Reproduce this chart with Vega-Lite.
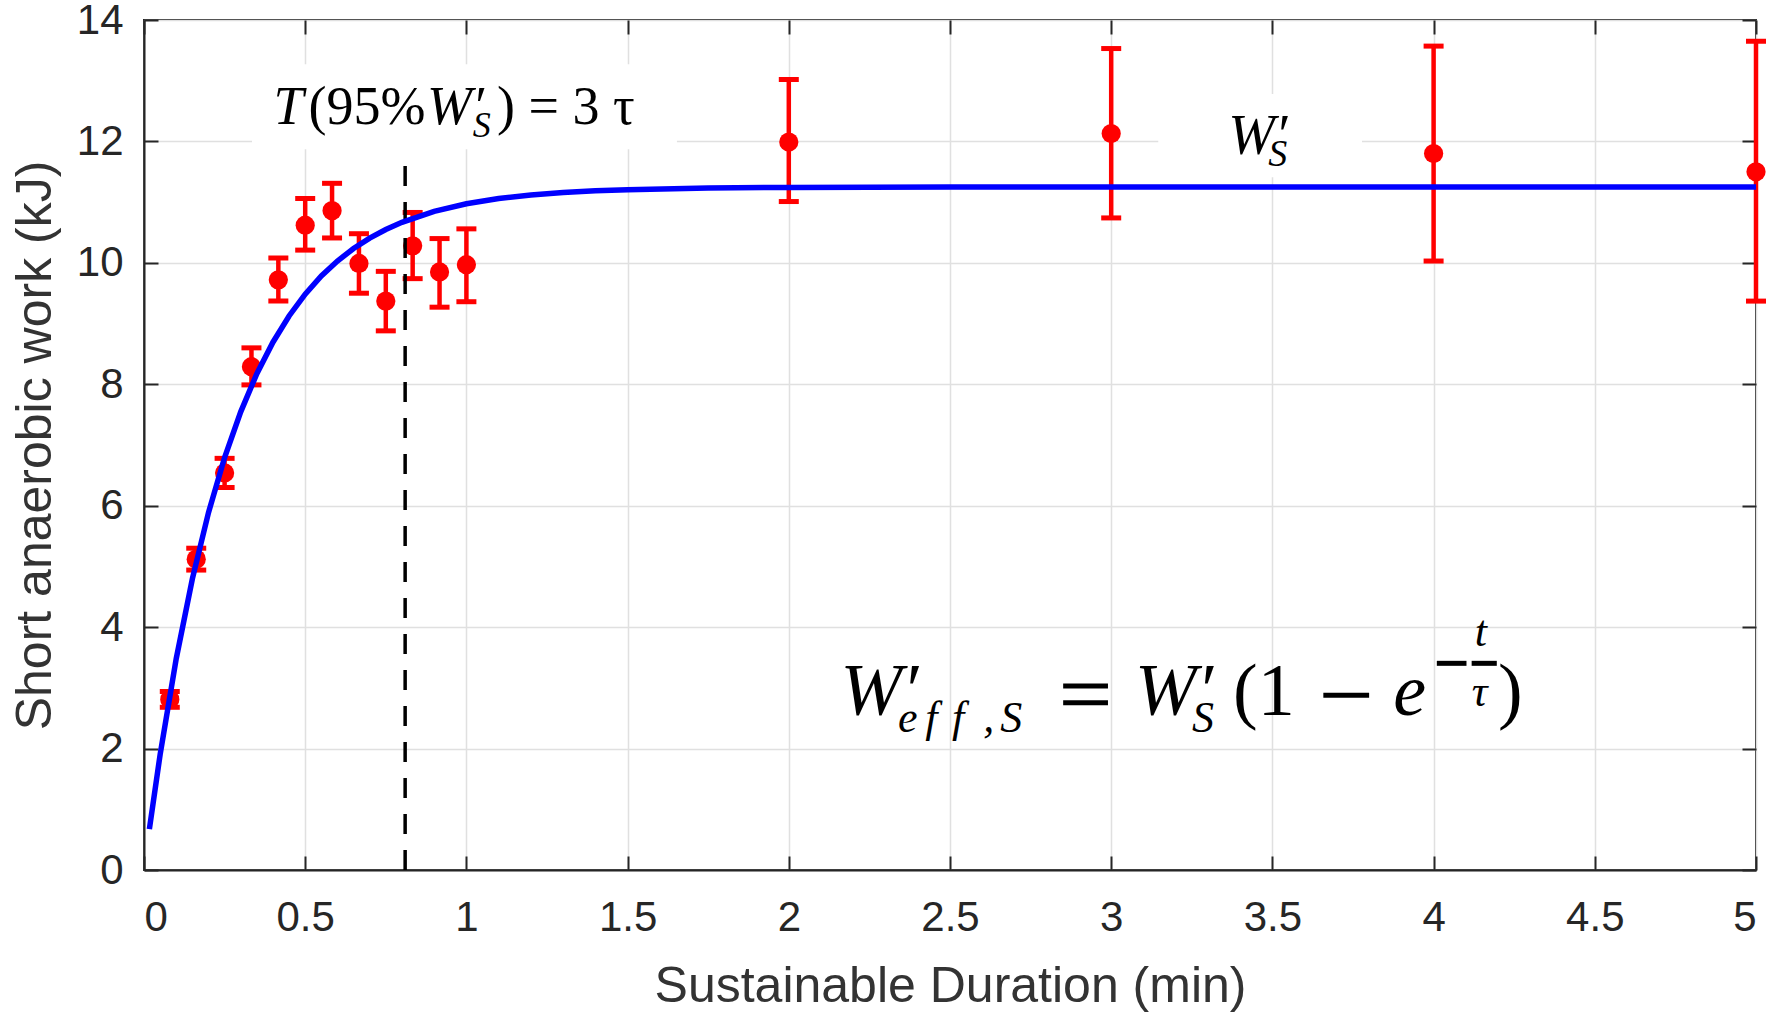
{
  "$schema": "https://vega.github.io/schema/vega-lite/v6.json",
  "width": 1612,
  "height": 850,
  "autosize": {"type": "none"},
  "padding": {"left": 144, "top": 20, "right": 17, "bottom": 143},
  "background": "white",
  "config": {
    "view": {"stroke": "#262626", "strokeWidth": 2},
    "axis": {
      "labelFont": "Liberation Sans",
      "titleFont": "Liberation Sans",
      "labelColor": "#262626",
      "titleColor": "#333333",
      "labelFontSize": 42,
      "titleFontSize": 50,
      "titleFontWeight": "normal",
      "domainColor": "#262626",
      "domainWidth": 2,
      "tickColor": "#262626",
      "tickWidth": 2,
      "tickSize": -14,
      "gridColor": "#e0e0e0",
      "gridWidth": 1.5
    }
  },
  "datasets": {
    "points": [
      {"x": 0.0800, "y": 2.81, "lo": 2.68, "hi": 2.94},
      {"x": 0.1620, "y": 5.12, "lo": 4.94, "hi": 5.30},
      {"x": 0.25, "y": 6.54, "lo": 6.30, "hi": 6.78},
      {"x": 0.3333, "y": 8.29, "lo": 7.99, "hi": 8.60},
      {"x": 0.4167, "y": 9.72, "lo": 9.37, "hi": 10.08},
      {"x": 0.5, "y": 10.62, "lo": 10.21, "hi": 11.06},
      {"x": 0.5833, "y": 10.86, "lo": 10.41, "hi": 11.31},
      {"x": 0.6667, "y": 9.99, "lo": 9.50, "hi": 10.48},
      {"x": 0.75, "y": 9.37, "lo": 8.88, "hi": 9.86},
      {"x": 0.8333, "y": 10.28, "lo": 9.74, "hi": 10.83},
      {"x": 0.9167, "y": 9.85, "lo": 9.27, "hi": 10.40},
      {"x": 1.0, "y": 9.97, "lo": 9.36, "hi": 10.56},
      {"x": 2, "y": 11.99, "lo": 11.01, "hi": 13.02},
      {"x": 3, "y": 12.13, "lo": 10.74, "hi": 13.53},
      {"x": 4, "y": 11.80, "lo": 10.03, "hi": 13.57},
      {"x": 5, "y": 11.50, "lo": 9.37, "hi": 13.65}
    ],
    "curve": [
      {"x": 0.0167, "y": 0.673},
      {"x": 0.05, "y": 1.901},
      {"x": 0.1, "y": 3.482},
      {"x": 0.15, "y": 4.795},
      {"x": 0.2, "y": 5.886},
      {"x": 0.25, "y": 6.793},
      {"x": 0.3, "y": 7.546},
      {"x": 0.35, "y": 8.173},
      {"x": 0.4, "y": 8.693},
      {"x": 0.45, "y": 9.125},
      {"x": 0.5, "y": 9.485},
      {"x": 0.55, "y": 9.783},
      {"x": 0.6, "y": 10.030},
      {"x": 0.65, "y": 10.237},
      {"x": 0.7, "y": 10.408},
      {"x": 0.75, "y": 10.550},
      {"x": 0.8, "y": 10.668},
      {"x": 0.9, "y": 10.848},
      {"x": 1.0, "y": 10.973},
      {"x": 1.1, "y": 11.059},
      {"x": 1.2, "y": 11.118},
      {"x": 1.3, "y": 11.159},
      {"x": 1.4, "y": 11.187},
      {"x": 1.5, "y": 11.206},
      {"x": 1.75, "y": 11.233},
      {"x": 2.0, "y": 11.243},
      {"x": 2.5, "y": 11.249},
      {"x": 3.0, "y": 11.25},
      {"x": 4.0, "y": 11.25},
      {"x": 5.0, "y": 11.25}
    ],
    "boxes": [
      {"x": 0.335, "x2": 1.653, "y": 11.87, "y2": 13.27},
      {"x": 3.146, "x2": 3.778, "y": 11.41, "y2": 12.78}
    ],
    "vline": [{"x": 0.81, "y": 0, "y2": 11.6}],
    "bars": [
      {"x": 2.851, "x2": 2.99, "y": 3.03},
      {"x": 2.851, "x2": 2.99, "y": 2.755},
      {"x": 3.658, "x2": 3.80, "y": 2.88},
      {"x": 4.010, "x2": 4.102, "y": 3.404},
      {"x": 4.118, "x2": 4.196, "y": 3.404}
    ],
    "tItalic": [
      {"text": "T", "x": 0.402, "y": 12.28},
      {"text": "W′", "x": 0.878, "y": 12.28}
    ],
    "tUpright": [
      {"text": "(95%", "x": 0.51, "y": 12.28},
      {"text": ") = 3 τ", "x": 1.095, "y": 12.28}
    ],
    "tSub": [
      {"text": "S", "x": 1.02, "y": 12.08}
    ],
    "wLabel": [
      {"text": "W′", "x": 3.363, "y": 11.79}
    ],
    "wSub": [
      {"text": "S", "x": 3.487, "y": 11.60}
    ],
    "fItalic": [
      {"text": "W′", "x": 2.160, "y": 2.56},
      {"text": "W′", "x": 3.074, "y": 2.56},
      {"text": "e", "x": 3.875, "y": 2.56}
    ],
    "fUpright": [
      {"text": "(1", "x": 3.378, "y": 2.56},
      {"text": ")", "x": 4.20, "y": 2.56}
    ],
    "fSub": [
      {"text": "e", "x": 2.339, "y": 2.27},
      {"text": "f", "x": 2.423, "y": 2.27},
      {"text": "f", "x": 2.506, "y": 2.27},
      {"text": ",", "x": 2.603, "y": 2.27},
      {"text": "S", "x": 2.656, "y": 2.27},
      {"text": "S", "x": 3.251, "y": 2.27}
    ],
    "fExp": [
      {"text": "t", "x": 4.128, "y": 3.689},
      {"text": "τ", "x": 4.118, "y": 2.70}
    ]
  },
  "resolve": {"axis": {"x": "independent", "y": "independent"}},
  "layer": [
    {
      "encoding": {
        "x": {
          "field": "x",
          "type": "quantitative",
          "scale": {"domain": [0, 5], "nice": false, "zero": false},
          "axis": {
            "values": [0, 0.5, 1, 1.5, 2, 2.5, 3, 3.5, 4, 4.5, 5],
            "format": "~g",
            "title": "Sustainable Duration (min)",
            "labelPadding": 41,
            "titlePadding": 23
          }
        },
        "y": {
          "field": "y",
          "type": "quantitative",
          "scale": {"domain": [0, 14], "nice": false},
          "axis": {
            "values": [0, 2, 4, 6, 8, 10, 12, 14],
            "title": "Short anaerobic work (kJ)",
            "labelPadding": 35,
            "titlePadding": 16
          }
        }
      },
      "layer": [
        {
          "data": {"name": "boxes"},
          "mark": {"type": "rect", "color": "white"},
          "encoding": {
            "x2": {"field": "x2"},
            "y2": {"field": "y2"}
          }
        },
        {
          "data": {"name": "points"},
          "mark": {"type": "rule", "color": "#ff0000", "strokeWidth": 4.5},
          "encoding": {
            "y": {"field": "lo", "type": "quantitative", "title": "Short anaerobic work (kJ)"},
            "y2": {"field": "hi"}
          }
        },
        {
          "data": {"name": "points"},
          "mark": {"type": "tick", "orient": "horizontal", "color": "#ff0000", "size": 20, "thickness": 5, "opacity": 1},
          "encoding": {
            "y": {"field": "lo", "type": "quantitative", "title": "Short anaerobic work (kJ)"}
          }
        },
        {
          "data": {"name": "points"},
          "mark": {"type": "tick", "orient": "horizontal", "color": "#ff0000", "size": 20, "thickness": 5, "opacity": 1},
          "encoding": {
            "y": {"field": "hi", "type": "quantitative", "title": "Short anaerobic work (kJ)"}
          }
        },
        {
          "data": {"name": "points"},
          "mark": {"type": "point", "shape": "circle", "filled": true, "color": "#ff0000", "size": 370, "opacity": 1}
        },
        {
          "data": {"name": "vline"},
          "mark": {"type": "rule", "color": "black", "strokeWidth": 3.5, "strokeDash": [20, 16]},
          "encoding": {
            "y2": {"field": "y2"}
          }
        },
        {
          "data": {"name": "curve"},
          "mark": {"type": "line", "color": "#0000ff", "strokeWidth": 5.5, "interpolate": "linear"}
        },
        {
          "data": {"name": "bars"},
          "mark": {"type": "rule", "color": "black", "strokeWidth": 5},
          "encoding": {
            "x2": {"field": "x2"}
          }
        },
        {
          "data": {"name": "tItalic"},
          "mark": {"type": "text", "font": "Liberation Serif", "fontStyle": "italic", "fontSize": 54, "align": "left", "baseline": "alphabetic", "color": "black"},
          "encoding": {"text": {"field": "text"}}
        },
        {
          "data": {"name": "tUpright"},
          "mark": {"type": "text", "font": "Liberation Serif", "fontSize": 54, "align": "left", "baseline": "alphabetic", "color": "black"},
          "encoding": {"text": {"field": "text"}}
        },
        {
          "data": {"name": "tSub"},
          "mark": {"type": "text", "font": "Liberation Serif", "fontStyle": "italic", "fontSize": 36, "align": "left", "baseline": "alphabetic", "color": "black"},
          "encoding": {"text": {"field": "text"}}
        },
        {
          "data": {"name": "wLabel"},
          "mark": {"type": "text", "font": "Liberation Serif", "fontStyle": "italic", "fontSize": 56, "align": "left", "baseline": "alphabetic", "color": "black"},
          "encoding": {"text": {"field": "text"}}
        },
        {
          "data": {"name": "wSub"},
          "mark": {"type": "text", "font": "Liberation Serif", "fontStyle": "italic", "fontSize": 38, "align": "left", "baseline": "alphabetic", "color": "black"},
          "encoding": {"text": {"field": "text"}}
        },
        {
          "data": {"name": "fItalic"},
          "mark": {"type": "text", "font": "Liberation Serif", "fontStyle": "italic", "fontSize": 74, "align": "left", "baseline": "alphabetic", "color": "black"},
          "encoding": {"text": {"field": "text"}}
        },
        {
          "data": {"name": "fUpright"},
          "mark": {"type": "text", "font": "Liberation Serif", "fontSize": 74, "align": "left", "baseline": "alphabetic", "color": "black"},
          "encoding": {"text": {"field": "text"}}
        },
        {
          "data": {"name": "fSub"},
          "mark": {"type": "text", "font": "Liberation Serif", "fontStyle": "italic", "fontSize": 44, "align": "left", "baseline": "alphabetic", "color": "black"},
          "encoding": {"text": {"field": "text"}}
        },
        {
          "data": {"name": "fExp"},
          "mark": {"type": "text", "font": "Liberation Serif", "fontStyle": "italic", "fontSize": 44, "align": "left", "baseline": "alphabetic", "color": "black"},
          "encoding": {"text": {"field": "text"}}
        }
      ]
    },
    {
      "data": {"name": "points"},
      "mark": {"type": "point", "opacity": 0},
      "encoding": {
        "x": {
          "field": "x",
          "type": "quantitative",
          "scale": {"domain": [0, 5], "nice": false, "zero": false},
          "axis": {"orient": "top", "values": [0, 0.5, 1, 1.5, 2, 2.5, 3, 3.5, 4, 4.5, 5], "labels": false, "title": null, "grid": false, "domain": false}
        },
        "y": {
          "field": "y",
          "type": "quantitative",
          "scale": {"domain": [0, 14], "nice": false},
          "axis": {"orient": "right", "values": [0, 2, 4, 6, 8, 10, 12, 14], "labels": false, "title": null, "grid": false, "domain": false}
        }
      }
    }
  ]
}
